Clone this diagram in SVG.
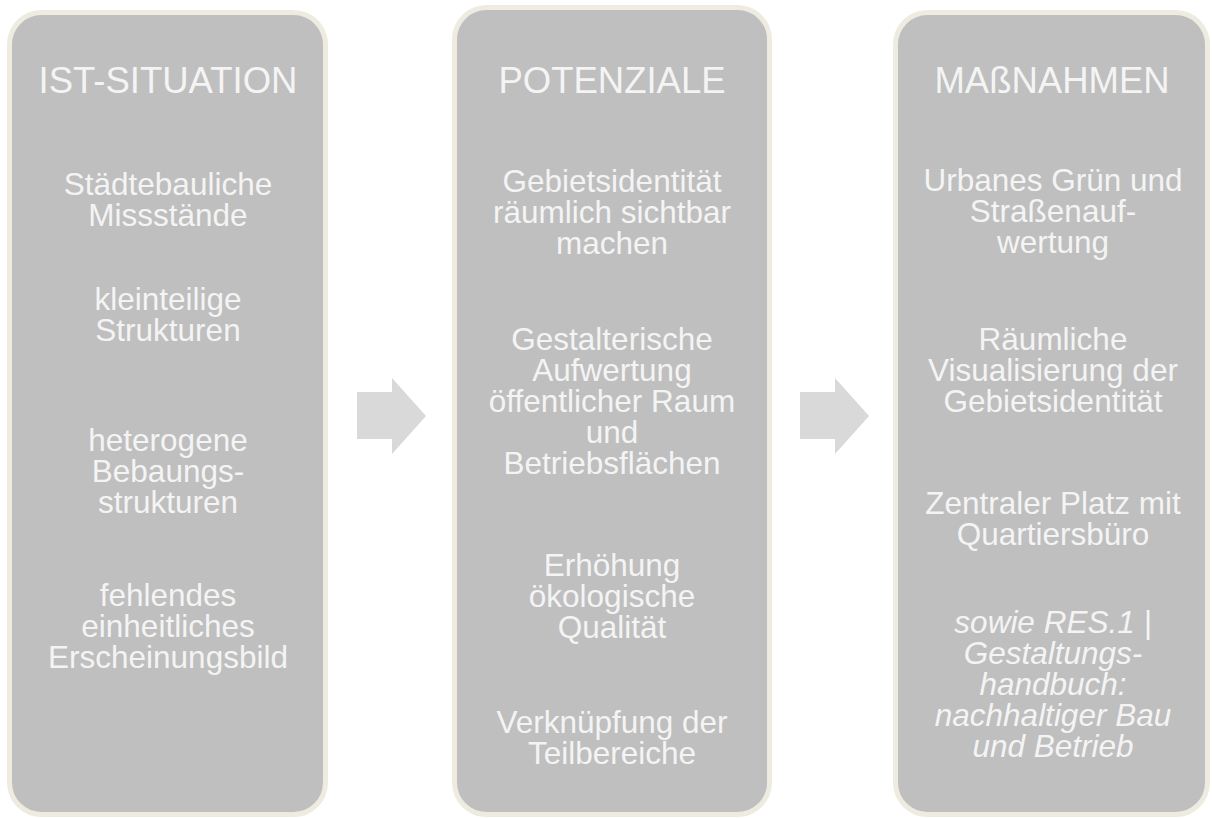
<svg xmlns="http://www.w3.org/2000/svg" width="1212" height="818" viewBox="0 0 1212 818">
<style>
.box{fill:#bfbfbf;stroke:#eeebe0;stroke-width:5}
.t{font-family:"Liberation Sans",Arial,sans-serif;fill:#f4f4f4;text-anchor:middle}
.h{font-size:36.5px}
.b{font-size:31.5px}
.i{font-style:italic}
.arr{fill:#d9d9d9}
</style>
<rect width="1212" height="818" fill="#ffffff"/>
<g id="connectors">
<polygon class="arr" points="357,392 392,392 392,378 426,416 392,454 392,439 357,439"/>
<polygon class="arr" points="800,392 835,392 835,378 869,416 835,454 835,439 800,439"/>
</g>
<g id="ist-situation">
<rect class="box" x="9.5" y="12.5" width="316" height="802" rx="32"/>
<text class="t h" x="168" y="93">IST-SITUATION</text>
<text class="t b" x="168" y="195">Städtebauliche</text>
<text class="t b" x="168" y="226">Missstände</text>
<text class="t b" x="168" y="310">kleinteilige</text>
<text class="t b" x="168" y="341">Strukturen</text>
<text class="t b" x="168" y="451">heterogene</text>
<text class="t b" x="168" y="482">Bebaungs-</text>
<text class="t b" x="168" y="513">strukturen</text>
<text class="t b" x="168" y="606">fehlendes</text>
<text class="t b" x="168" y="637">einheitliches</text>
<text class="t b" x="168" y="668">Erscheinungsbild</text>
</g>
<g id="potenziale">
<rect class="box" x="454.5" y="7.5" width="315" height="807" rx="32"/>
<text class="t h" x="612" y="93">POTENZIALE</text>
<text class="t b" x="612" y="192">Gebietsidentität</text>
<text class="t b" x="612" y="223">räumlich sichtbar</text>
<text class="t b" x="612" y="254">machen</text>
<text class="t b" x="612" y="350">Gestalterische</text>
<text class="t b" x="612" y="381">Aufwertung</text>
<text class="t b" x="612" y="412">öffentlicher Raum</text>
<text class="t b" x="612" y="443">und</text>
<text class="t b" x="612" y="474">Betriebsflächen</text>
<text class="t b" x="612" y="576">Erhöhung</text>
<text class="t b" x="612" y="607">ökologische</text>
<text class="t b" x="612" y="638">Qualität</text>
<text class="t b" x="612" y="733">Verknüpfung der</text>
<text class="t b" x="612" y="764">Teilbereiche</text>
</g>
<g id="massnahmen">
<rect class="box" x="895.5" y="12.5" width="312" height="802" rx="32"/>
<text class="t h" x="1052" y="93">MAßNAHMEN</text>
<text class="t b" x="1053" y="191">Urbanes Grün und</text>
<text class="t b" x="1053" y="222">Straßenauf-</text>
<text class="t b" x="1053" y="253">wertung</text>
<text class="t b" x="1053" y="350">Räumliche</text>
<text class="t b" x="1053" y="381">Visualisierung der</text>
<text class="t b" x="1053" y="412">Gebietsidentität</text>
<text class="t b" x="1053" y="514">Zentraler Platz mit</text>
<text class="t b" x="1053" y="545">Quartiersbüro</text>
<text class="t b i" x="1053" y="633">sowie RES.1 |</text>
<text class="t b i" x="1053" y="664">Gestaltungs-</text>
<text class="t b i" x="1053" y="695">handbuch:</text>
<text class="t b i" x="1053" y="726">nachhaltiger Bau</text>
<text class="t b i" x="1053" y="757">und Betrieb</text>
</g>
</svg>
